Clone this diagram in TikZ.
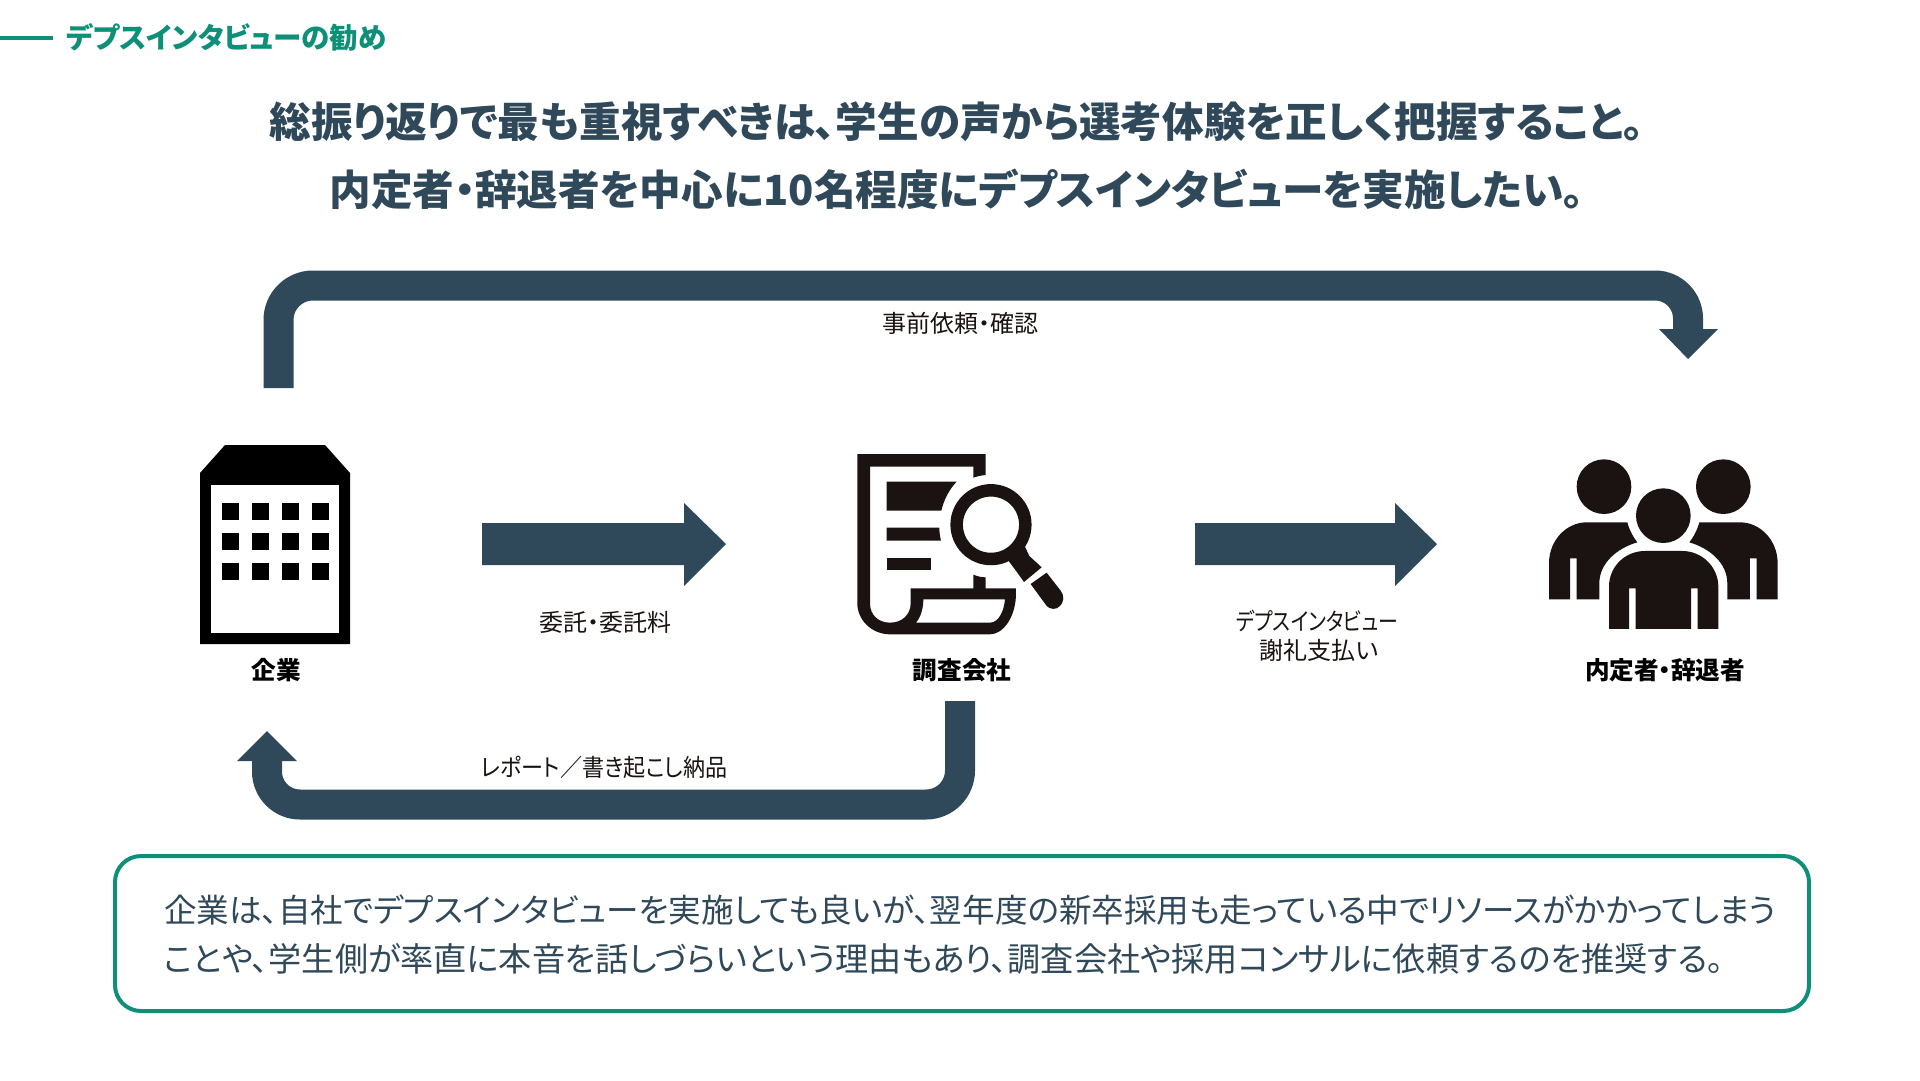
\documentclass[tikz,border=0pt]{standalone}
\usepackage{fontspec}
\setmainfont[RawFeature=+palt]{Noto Sans CJK JP}
\definecolor{navy}{HTML}{30495A}
\definecolor{teal2}{HTML}{0E9078}
\definecolor{ink}{HTML}{1A1311}
\newcommand{\px}[1]{\fontsize{#1}{#1}\selectfont}
\begin{document}
\begin{tikzpicture}[x=1pt,y=-1pt,
 band/.style={draw=navy,line width=30pt,line cap=butt},
 tipfill/.style={fill=navy,draw=none},
 capt/.style={inner sep=0pt,font=\px{24.6}\bfseries,text=black},
 lab/.style={inner sep=0pt,font=\px{24},text=ink,align=center},
 head/.style={inner sep=0pt,font=\px{41.6}\bfseries,text=navy},
 body/.style={inner sep=0pt,anchor=west,text=navy},
 icon/.style={shift={#1},x=0.3333pt,y=-0.3333pt}]
\useasboundingbox (0,0) rectangle (1920,1080);
\fill[white] (0,0) rectangle (1920,1080);
\draw[teal2,line width=4pt] (0,38) -- (53,38);
\node[inner sep=0pt,anchor=west,font=\px{28.5}\bfseries,text=teal2] (ttl) at (66,37) {デプスインタビューの勧め};
\node[head] (h1) at (957,122) {総振り返りで最も重視すべきは、学生の声から選考体験を正しく把握すること。};
\node[head] (h2) at (957,189) {内定者・辞退者を中心に10名程度にデプスインタビューを実施したい。};
% top arrow
\coordinate (a1s) at (278.5,388);
\coordinate (a1e) at (1688,330);
\draw[band] (a1s) -- (278.5,320) arc[start angle=180,end angle=270,radius=34.5] -- (1655,285.5) arc[start angle=-90,end angle=0,radius=33] -- (a1e);
\fill[tipfill] (1659,329) -- (1718,329) -- (1688,359) -- cycle;
\node[lab] (l1) at (960,323) {事前依頼・確認};
% straight arrows
\fill[tipfill] (482,523) -- (684,523) -- (684,503) -- (726,544) -- (684,586) -- (684,565) -- (482,565) -- cycle;
\fill[tipfill] (1195,523) -- (1395,523) -- (1395,503) -- (1437,544) -- (1395,586) -- (1395,565) -- (1195,565) -- cycle;
\node[lab] (l2) at (605,622) {委託・委託料};
\node[lab,xscale=.83] (l3a) at (1317,621) {デプスインタビュー};
\node[lab] (l3b) at (1319,650) {謝礼支払い};
% bottom arrow
\coordinate (a2s) at (960,701);
\coordinate (a2e) at (267,760);
\draw[band] (a2s) -- (960,770.5) arc[start angle=0,end angle=90,radius=34] -- (300,804.5) arc[start angle=90,end angle=180,radius=33] -- (a2e);
\fill[tipfill] (237,761) -- (297,761) -- (267,731) -- cycle;
\node[lab,xscale=.92] (l4) at (604,767) {レポート／書き起こし納品};
% building
\fill[black] (200,473) -- (225,445) -- (325,445) -- (350,473) -- (350,644) -- (200,644) -- cycle;
\fill[white] (211,485) rectangle (339,633);
\foreach \x in {222,252,282,312}\foreach \y in {503,533,563}{\fill[black] (\x,\y) rectangle (\x+16.5,\y+16.5);}
\node[capt] (c1) at (276,670) {企業};
% document with magnifier
\begin{scope}[icon={(820,430)}]
\fill[ink,even odd rule] (112,72) -- (497,72) -- (497,135) .. controls (484,136) and (472,139) .. (460,143) -- (460,110) -- (150,110) -- (150,520) .. controls (150,555) and (175,578) .. (210,578) .. controls (245,578) and (272,555) .. (272,520) -- (272,475) -- (460,475) -- (460,434) .. controls (472,439) and (484,442) .. (497,442) -- (497,475) -- (588,475) -- (588,490) .. controls (588,560) and (550,613) .. (510,613) -- (210,613) .. controls (155,613) and (112,570) .. (112,520) -- cycle
 (310,508) -- (555,508) .. controls (552,545) and (535,578) .. (510,578) -- (288,578) .. controls (303,560) and (310,535) .. (310,508) -- cycle;
\fill[ink] (200,155) -- (410,155) .. controls (388,178) and (372,208) .. (364,242) -- (200,242) -- cycle;
\fill[ink] (200,293) -- (358,293) .. controls (358,306) and (360,320) .. (363,332) -- (200,332) -- cycle;
\fill[ink] (200,383) rectangle (333,421);
\draw[ink,line width=12.5pt] (513,284) circle[radius=103];
\fill[ink] (560,385) -- (615,350) -- (628,378) -- (665,412) -- (612,456) -- (590,425) -- cycle;
\fill[ink] (632,462) -- (680,428) -- (722,482) .. controls (748,515) and (705,558) .. (678,525) -- cycle;
\end{scope}
\node[capt] (c2) at (962,670) {調査会社};
% people
\begin{scope}[icon={(1520,440)}]
\fill[ink] (252,140) circle[radius=82];
\fill[ink] (610,140) circle[radius=82];
\fill[ink] (430,227) circle[radius=82];
\fill[ink] (87,478) -- (87,370) .. controls (87,300) and (140,247) .. (200,247) -- (322,247) .. controls (328,270) and (340,292) .. (352,307) .. controls (290,325) and (238,370) .. (238,430) -- (238,478) -- (170,478) -- (170,355) -- (150,355) -- (150,478) -- cycle;
\fill[ink] (773,478) -- (773,370) .. controls (773,300) and (720,247) .. (660,247) -- (538,247) .. controls (532,270) and (520,292) .. (508,307) .. controls (570,325) and (622,370) .. (622,430) -- (622,478) -- (690,478) -- (690,355) -- (710,355) -- (710,478) -- cycle;
\fill[ink] (267,567) -- (267,440) .. controls (267,380) and (315,333) .. (375,333) -- (487,333) .. controls (545,333) and (595,380) .. (595,440) -- (595,567) -- (533,567) -- (533,445) -- (513,445) -- (513,567) -- (347,567) -- (347,445) -- (327,445) -- (327,567) -- cycle;
\end{scope}
\node[capt] (c3) at (1665,670) {内定者・辞退者};
% box
\draw[teal2,line width=4pt,rounded corners=26pt] (115,856) rectangle (1809,1011);
\node[body,font=\px{32.55}] (b1) at (164,910) {企業は、自社でデプスインタビューを実施しても良いが、翌年度の新卒採用も走っている中でリソースがかかってしまう};
\node[body,font=\px{33.15}] (b2) at (164,959) {ことや、学生側が率直に本音を話しづらいという理由もあり、調査会社や採用コンサルに依頼するのを推奨する。};
\end{tikzpicture}
\end{document}
